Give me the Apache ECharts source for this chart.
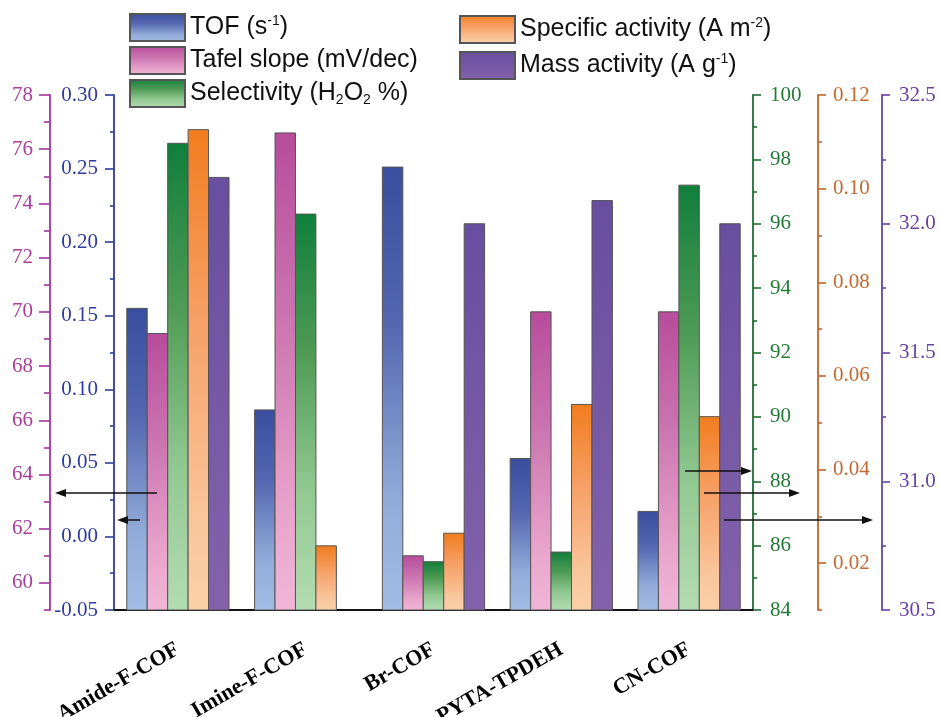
<!DOCTYPE html>
<html>
<head>
<meta charset="utf-8">
<script src="https://cdn.jsdelivr.net/npm/echarts@6/dist/echarts.min.js"></script>
<style>
  html, body { margin: 0; padding: 0; background: #fff; }
  #main { width: 940px; height: 717px; }
</style>
</head>
<body>
<div id="main"></div>
<script>
  // data
  const categories = ['Amide-F-COF', 'Imine-F-COF', 'Br-COF', 'PYTA-TPDEH', 'CN-COF'];
  const tofValues = [0.155, 0.086, 0.251, 0.053, 0.017];
  const tafelValues = [69.2, 76.6, 61.0, 70.0, 70.0];
  const selectivityValues = [98.5, 96.3, 85.5, 85.8, 97.2];
  const specificValues = [0.1126, 0.0237, 0.0264, 0.0539, 0.0513];
  const massValues = [32.18, null, 32.0, 32.09, 32.0];

  const tafelTicks = [60, 62, 64, 66, 68, 70, 72, 74, 76, 78];
  const tafelMinorTicks = [59, 61, 63, 65, 67, 69, 71, 73, 75, 77];
  const specificTicks = [0.02, 0.04, 0.06, 0.08, 0.10, 0.12];
  const specificMinorTicks = [0.01, 0.03, 0.05, 0.07, 0.09, 0.11];

  const legendNames = {
    'TOF': 'TOF (s{sup|-1})',
    'Tafel': 'Tafel slope (mV/dec)',
    'Selectivity': 'Selectivity (H{sub|2}O{sub|2} %)',
    'Specific': 'Specific activity (A m{sup|-2})',
    'Mass': 'Mass activity (A g{sup|-1})'
  };

  function grad(stops) {
    return new echarts.graphic.LinearGradient(0, 0, 0, 1,
      stops.map(function (s) { return { offset: s[0], color: s[1] }; }));
  }

  const serif = 'Liberation Serif';
  const nSlots = 5;

  function yAxis(o) {
    return {
      type: 'value',
      position: o.pos,
      offset: o.offset,
      min: o.min,
      max: o.max,
      interval: o.interval,
      splitLine: { show: false },
      axisLine: { show: o.line !== false, onZero: false, lineStyle: { color: o.color, width: 1.8 } },
      axisTick: {
        show: true,
        length: o.tickLen,
        customValues: o.tickValues,
        lineStyle: { color: o.color, width: 1.6 }
      },
      minorTick: {
        show: !!o.minor,
        splitNumber: 2,
        length: o.minorLen || 4,
        lineStyle: { color: o.color, width: 1.6 }
      },
      axisLabel: {
        show: o.labels !== false,
        customValues: o.labelValues,
        margin: o.margin,
        color: o.labelColor || o.color,
        fontFamily: serif,
        fontSize: 21,
        formatter: function (v) { return v.toFixed(o.digits); }
      }
    };
  }

  // bars grow from the bottom of their own axis, like in Origin
  function barSeries(name, slot, axisIndex, axisMin, values, color) {
    return {
      name: name,
      type: 'custom',
      yAxisIndex: axisIndex,
      data: values.map(function (v, i) { return [i, v]; }),
      itemStyle: { color: color, borderColor: '#555', borderWidth: 1 },
      renderItem: function (params, api) {
        const v = api.value(1);
        if (v == null || isNaN(v)) return null;
        const cat = api.value(0);
        const band = api.size([1, 0])[0];
        const bw = band * 0.8 / nSlots;
        const base = api.coord([cat, axisMin]);
        const top = api.coord([cat, v]);
        return {
          type: 'rect',
          shape: { x: base[0] - band * 0.4 + slot * bw, y: top[1], width: bw, height: base[1] - top[1] },
          style: api.style()
        };
      }
    };
  }

  const legendText = {
    fontFamily: 'Liberation Sans', fontSize: 25, color: '#111', lineHeight: 27,
    rich: {
      sup: { fontSize: 14, verticalAlign: 'top', lineHeight: 27, fontFamily: 'Liberation Sans', color: '#111' },
      sub: { fontSize: 14, verticalAlign: 'bottom', lineHeight: 22, fontFamily: 'Liberation Sans', color: '#111' }
    }
  };

  const chart = echarts.init(document.getElementById('main'));

  chart.setOption({
    backgroundColor: '#fff',
    animation: false,
    grid: { left: 114, right: 187, top: 95, bottom: 107, outerBoundsMode: 'none' },
    legend: [
      {
        data: ['TOF', 'Tafel', 'Selectivity'],
        orient: 'vertical',
        left: 129, top: 13, padding: 0,
        itemWidth: 55, itemHeight: 27, itemGap: 4,
        icon: 'rect',
        formatter: function (n) { return legendNames[n]; },
        textStyle: legendText
      },
      {
        data: ['Specific', 'Mass'],
        orient: 'vertical',
        left: 459, top: 15, padding: 0,
        itemWidth: 55, itemHeight: 27, itemGap: 7,
        icon: 'rect',
        formatter: function (n) { return legendNames[n]; },
        textStyle: legendText
      }
    ],
    xAxis: [
      {
        type: 'category',
        data: categories,
        axisLine: { onZero: false, lineStyle: { color: '#111', width: 1.8 } },
        axisTick: { alignWithLabel: true, length: 10, lineStyle: { color: '#111', width: 1.6 } },
        axisLabel: {
          rotate: 30, margin: 38, interval: 0,
          fontFamily: serif, fontWeight: 'bold', fontSize: 22, color: '#000'
        }
      },
      {
        type: 'category',
        data: categories,
        position: 'bottom',
        axisLine: { show: false, onZero: false },
        axisTick: { alignWithLabel: false, length: 5, lineStyle: { color: '#111', width: 1.6 } },
        axisLabel: { show: false }
      }
    ],
    yAxis: [
      yAxis({ pos: 'left', offset: 0, min: -0.05, max: 0.30, interval: 0.05, color: '#2f3d9c',
        tickLen: 9, minor: true, minorLen: 4, margin: 16, digits: 2 }),
      yAxis({ pos: 'left', offset: 64, min: 59, max: 78, color: '#a3329f', labelColor: '#a8409c',
        tickValues: tafelTicks, labelValues: tafelTicks, tickLen: 11, margin: 17, digits: 0 }),
      yAxis({ pos: 'right', offset: 0, min: 84, max: 100, interval: 2, color: '#1d6f2e', labelColor: '#237a36',
        tickLen: 8, minor: true, minorLen: 4, margin: 17, digits: 0 }),
      yAxis({ pos: 'right', offset: 65, min: 0.01, max: 0.12, color: '#c0642c', labelColor: '#c66a30',
        tickValues: specificTicks, labelValues: specificTicks, tickLen: 8, margin: 15, digits: 2 }),
      yAxis({ pos: 'right', offset: 129, min: 30.5, max: 32.5, interval: 0.5, color: '#6a42a2',
        tickLen: 8, minor: true, minorLen: 4, margin: 17, digits: 1 }),
      // minor ticks for the two axes whose range does not start on a tick
      yAxis({ pos: 'left', offset: 64, min: 59, max: 78, color: '#a3329f', line: false, labels: false,
        tickValues: tafelMinorTicks, tickLen: 6, digits: 0 }),
      yAxis({ pos: 'right', offset: 65, min: 0.01, max: 0.12, color: '#c0642c', line: false, labels: false,
        tickValues: specificMinorTicks, tickLen: 4, digits: 2 })
    ],
    series: [
      barSeries('TOF', 0, 0, -0.05, tofValues,
        grad([[0, '#3a4e9f'], [0.35, '#5466b0'], [0.75, '#92abd9'], [1, '#a2bce4']])),
      barSeries('Tafel', 1, 1, 59, tafelValues,
        grad([[0, '#b84c9b'], [0.4, '#cb75b1'], [0.8, '#e9a4cb'], [1, '#f0b6d6']])),
      barSeries('Selectivity', 2, 2, 84, selectivityValues,
        grad([[0, '#107f3c'], [0.35, '#4f9b55'], [0.7, '#92c892'], [1, '#b3dcb1']])),
      barSeries('Specific', 3, 3, 0.01, specificValues,
        grad([[0, '#f17c1e'], [0.4, '#f6a066'], [0.8, '#f9c49a'], [1, '#fbd0a7']])),
      barSeries('Mass', 4, 4, 30.5, massValues,
        grad([[0, '#684e9f'], [1, '#8462ab']]))
    ],
    graphic: [
      // arrows telling which axis a bar colour belongs to
      { type: 'line', shape: { x1: 157, y1: 493, x2: 62, y2: 493 }, style: { stroke: '#111', lineWidth: 1.5 }, z: 100 },
      { type: 'polygon', shape: { points: [[55, 493], [66, 489], [66, 497]] }, style: { fill: '#111' }, z: 100 },
      { type: 'line', shape: { x1: 140, y1: 520, x2: 124, y2: 520 }, style: { stroke: '#111', lineWidth: 1.5 }, z: 100 },
      { type: 'polygon', shape: { points: [[117, 520], [128, 516], [128, 524]] }, style: { fill: '#111' }, z: 100 },
      { type: 'line', shape: { x1: 685, y1: 471, x2: 745, y2: 471 }, style: { stroke: '#111', lineWidth: 1.5 }, z: 100 },
      { type: 'polygon', shape: { points: [[752, 471], [741, 467], [741, 475]] }, style: { fill: '#111' }, z: 100 },
      { type: 'line', shape: { x1: 704, y1: 493, x2: 793, y2: 493 }, style: { stroke: '#111', lineWidth: 1.5 }, z: 100 },
      { type: 'polygon', shape: { points: [[800, 493], [789, 489], [789, 497]] }, style: { fill: '#111' }, z: 100 },
      { type: 'line', shape: { x1: 724, y1: 520, x2: 866, y2: 520 }, style: { stroke: '#111', lineWidth: 1.5 }, z: 100 },
      { type: 'polygon', shape: { points: [[873, 520], [862, 516], [862, 524]] }, style: { fill: '#111' }, z: 100 }
    ]
  });
</script>
</body>
</html>
